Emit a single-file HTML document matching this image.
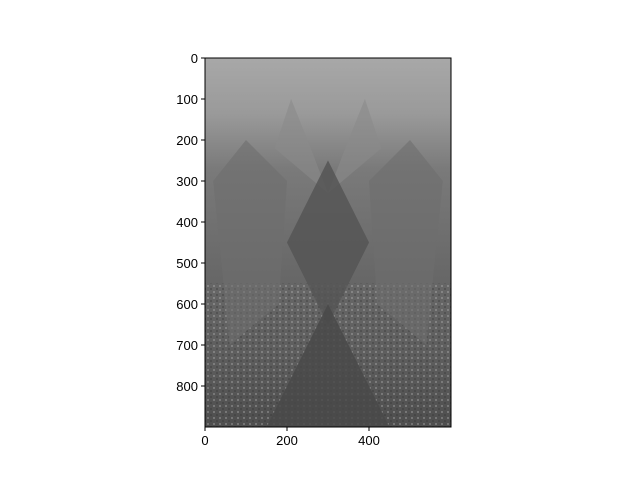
<!DOCTYPE html>
<html><head><meta charset="utf-8"><style>
body{margin:0;background:#fff;}
svg text{font-family:"Liberation Sans",sans-serif;font-size:13px;fill:#000;}
</style></head><body>
<svg width="640" height="480" xmlns="http://www.w3.org/2000/svg">
<defs>
<linearGradient id="vg" x1="0" y1="0" x2="0" y2="1">
<stop offset="0" stop-color="#a8a8a8"/>
<stop offset="0.15" stop-color="#9a9a9a"/>
<stop offset="0.3" stop-color="#7a7a7a"/>
<stop offset="0.6" stop-color="#676767"/>
<stop offset="0.8" stop-color="#5e5e5e"/>
<stop offset="1" stop-color="#4e4e4e"/>
</linearGradient>
<pattern id="tex" width="6" height="6" patternUnits="userSpaceOnUse">
<rect width="6" height="6" fill="none"/>
<rect x="0" y="0" width="2" height="2" fill="#333" opacity="0.35"/>
<rect x="3" y="3" width="2" height="2" fill="#ccc" opacity="0.3"/>
</pattern>
</defs>
<g id="img"></g>
<g id="axes"></g>
</svg>
<script>
const xTicks=[0,200,400];
const yTicks=[0,100,200,300,400,500,600,700,800];
const imgW=600, imgH=900;
const X0=205, Y0=58, S=0.41;
const sx=v=>X0+v*S, sy=v=>Y0+v*S;
const NS="http://www.w3.org/2000/svg";
function mk(p,t,a){const e=document.createElementNS(NS,t);for(const k in a)e.setAttribute(k,a[k]);p.appendChild(e);return e;}
const img=document.getElementById('img'), ax=document.getElementById('axes');
const W=imgW*S,H=imgH*S;
let r=mk(img,'rect',{x:X0,y:Y0,width:W,height:H,fill:'url(#vg)'});


// textured lower region
r=mk(img,'rect',{x:X0,y:sy(550),width:W,height:sy(900)-sy(550),fill:'url(#tex)'});


// spires and building silhouettes (mirrored)
const shapes=[
 [[210,100],[170,220],[300,330],[250,200]],
 [[100,200],[20,300],[60,700],[180,600],[200,300]],
 [[300,250],[200,450],[300,650],[400,450]],
 [[300,600],[150,900],[450,900]]
];
const fills=['#8a8a8a','#6e6e6e','#555','#4a4a4a'];
shapes.forEach((s,i)=>{
 [false,true].forEach(m=>{
  const pts=s.map(p=>[sx(m?imgW-p[0]:p[0]),sy(p[1])].join(',')).join(' ');
  const e=mk(img,'polygon',{points:pts,fill:fills[i],opacity:0.6});
  
  
 });
});
let f=mk(ax,'rect',{x:X0,y:Y0,width:W,height:H,fill:'none',stroke:'#000','stroke-width':1});


xTicks.forEach(v=>{
 const x=sx(v);
 const l=mk(ax,'line',{x1:x,y1:Y0+H,x2:x,y2:Y0+H+4,stroke:'#000'});
 
 
 const t=mk(ax,'text',{x:x,y:Y0+H+18,'text-anchor':'middle'});t.textContent=v;
 
 
});
yTicks.forEach(v=>{
 const y=sy(v);
 const l=mk(ax,'line',{x1:X0-4,y1:y,x2:X0,y2:y,stroke:'#000'});
 
 
 const t=mk(ax,'text',{x:X0-7,y:y+5,'text-anchor':'end'});t.textContent=v;
 
 
});
</script>
</body></html>
